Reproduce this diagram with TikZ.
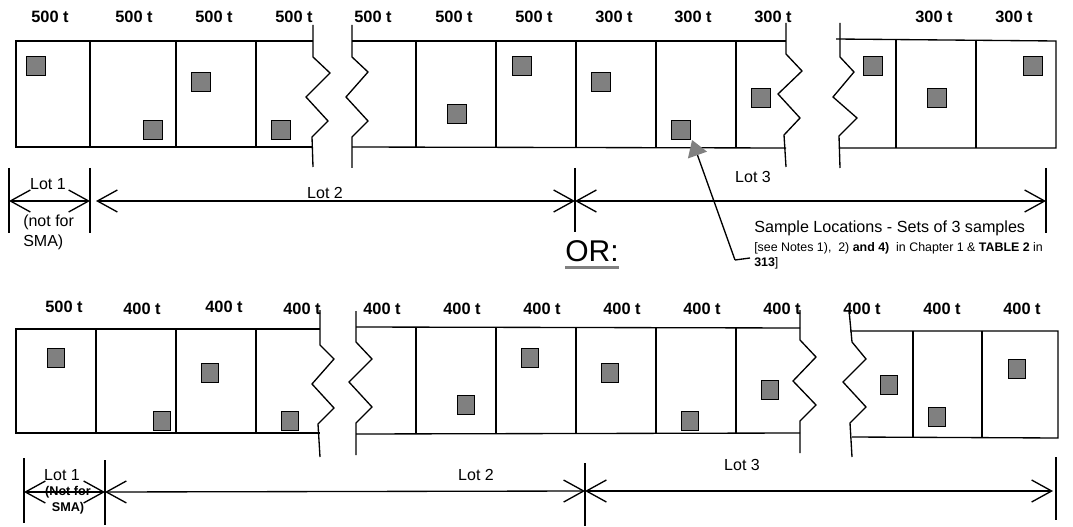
\documentclass[tikz,border=0pt]{standalone}
\usepackage{fontspec}
\setmainfont{Liberation Sans}
\usetikzlibrary{arrows.meta}
\definecolor{sqgray}{RGB}{128,128,128}
\tikzset{
  cell/.style={line width=1pt},
  sq/.style={draw=black,line width=1pt,fill=sqgray,minimum width=14pt,minimum height=14pt,inner sep=0pt},
  sqs/.style={sq,minimum width=12.8pt,minimum height=14pt},
  ton/.style={font=\fontsize{12.3}{13}\selectfont\bfseries,inner sep=0pt},
  lotlbl/.style={font=\fontsize{12}{14}\selectfont,inner sep=0pt},
  lotarrow/.style={line width=1pt,{Straight Barb[length=15pt,width=16.5pt,line width=1pt]}-{Straight Barb[length=15pt,width=16.5pt,line width=1pt]}},
  tick/.style={line width=1pt},
}
\begin{document}
\begin{tikzpicture}[x=0.75pt,y=-0.75pt]
\useasboundingbox (0,0) rectangle (1073,527);
% ================= TOP ROW =================
% segment 1
\draw[cell] (313,41) -- (16,41) -- (16,147) -- (313,147);
\foreach \xx in {90,176,256} \draw[cell] (\xx,41) -- (\xx,147);
\draw[cell] (313,25)--(313,57)--(330,73)--(306,97)--(328,121)--(312,137)--(313,167);
% segment 2
\draw[cell] (352,25)--(352,57)--(368,72)--(346,97)--(368,121)--(352,137)--(352,168);
\draw[cell] (352,41) -- (786,41);
\draw[cell] (352,147) -- (786,148);
\foreach \xx in {416,496,576,656,736} \draw[cell] (\xx,41) -- (\xx,147);
\draw[cell] (786,23)--(786,54)--(802,71)--(778,94)--(800,118)--(784,135)--(786,167);
% segment 3
\draw[cell] (840,23)--(840,57)--(854,72)--(833,97)--(857,118)--(839,136)--(840,168);
\draw[cell] (836,39) -- (1056,41) -- (1056,148) -- (840,148);
\foreach \xx in {896,976} \draw[cell] (\xx,40) -- (\xx,148);
% tonnage labels
\foreach \xx/\tt [count=\i] in {50/500,134/500,214/500,294/500,373/500,454/500,534/500,614/300,693/300,773/300,934/300,1014/300}
  \node[ton] (ta\i) at (\xx,17) {\tt\ t};
% squares
\foreach \xx/\yy [count=\i] in {36/66,153/130,201/82,281/130,457/114,522/66,601/82,681/130,761/98,873/66,937/98,1033/66}
  \node[sq] (sa\i) at (\xx,\yy) {};
% lots top
\coordinate (a1t) at (9,168);   \coordinate (a1b) at (9,233);
\coordinate (a2t) at (90,168);  \coordinate (a2b) at (90,233);
\coordinate (a3t) at (575,168); \coordinate (a3b) at (575,232);
\coordinate (a4t) at (1046,168);\coordinate (a4b) at (1046,233);
\foreach \c in {a1,a2,a3,a4} \draw[tick] (\c t) -- (\c b);
\coordinate (l1a) at (9,201);  \coordinate (l1b) at (90,201);
\coordinate (l2a) at (96,201); \coordinate (l2b) at (575,201);
\coordinate (l3a) at (575,201);\coordinate (l3b) at (1046,201);
\draw[lotarrow] (l1a) -- (l1b);
\draw[lotarrow] (l2a) -- (l2b);
\draw[lotarrow] (l3a) -- (l3b);
\node[lotlbl] (lota1) at (48,184) {Lot 1};
\node[lotlbl,anchor=base west] (lota1n) at (23,227) {(not for};
\node[lotlbl,anchor=base west] (lota1s) at (23,246) {SMA)};
\node[lotlbl] (lota2) at (325,193) {Lot 2};
\node[lotlbl] (lota3) at (753,177) {Lot 3};
% note
\node[font=\fontsize{12.1}{14}\selectfont,inner sep=0pt,anchor=base west] (note1) at (754,233) {Sample Locations - Sets of 3 samples};
\node[font=\fontsize{9.3}{10}\selectfont,inner sep=0pt,anchor=base west] (note2) at (754,251) {[see Notes 1),\ \ 2) \textbf{and 4)}\ \ in Chapter 1 \& \textbf{TABLE 2} in};
\node[font=\fontsize{9.3}{10}\selectfont,inner sep=0pt,anchor=base west] (note3) at (754,267) {\textbf{313}]};
\coordinate (lead1) at (750,258);
\coordinate (lead2) at (735,260);
\draw[line width=1pt] (lead1) -- (lead2);
\draw[line width=1pt,-{Triangle[length=12pt,width=15pt,color=sqgray,fill=sqgray]}] (lead2) -- ([xshift=0.8pt]sa8.south east);
% OR
\node[font=\fontsize{22.5}{26}\selectfont,inner sep=0pt,anchor=base] (or) at (592,262) {OR:};
\draw[sqgray,line width=2pt] ([yshift=-3.9pt]or.base west) -- ([yshift=-3.9pt]or.base east);
% ================= BOTTOM ROW =================
\draw[cell] (320,329) -- (16,329) -- (16,433) -- (320,433);
\foreach \xx in {96,176,256} \draw[cell] (\xx,329) -- (\xx,433);
\draw[cell] (320,310)--(320,345)--(334,359)--(312,384)--(334,408)--(318,424)--(320,457);
\draw[cell] (356,311)--(356,342)--(372,359)--(349,382)--(372,407)--(356,423)--(356,455);
\draw[cell] (356,327) -- (800,328);
\draw[cell] (356,434) -- (800,433);
\foreach \xx in {416,496,576,656,736} \draw[cell] (\xx,328) -- (\xx,433);
\draw[cell] (800,310)--(800,340)--(816,357)--(793,381)--(816,405)--(800,421)--(800,453);
\draw[cell] (849,310)--(852,342)--(866,359)--(843,382)--(866,407)--(850,423)--(852,457);
\draw[cell] (850,331) -- (1058,331) -- (1058,438) -- (852,437);
\foreach \xx in {913,982} \draw[cell] (\xx,331) -- (\xx,437);
\foreach \xx/\yy/\tt [count=\i] in {64/307/500,142/309/400,224/307/400,302/309/400,382/309/400,462/309/400,542/309/400,622/309/400,702/309/400,782/309/400,862/309/400,942/309/400,1022/309/400}
  \node[ton] (tb\i) at (\xx,\yy) {\tt\ t};
\foreach \xx/\yy [count=\i] in {56/358,162/421,210/373,290/421,466/405,530/358,610/373,690/421,770/390,889/385,937/417,1017/369}
  \node[sqs] (sb\i) at (\xx,\yy) {};
% lots bottom
\coordinate (b1t) at (24,458);   \coordinate (b1b) at (24,523);
\coordinate (b2t) at (105,460);  \coordinate (b2b) at (105,525);
\coordinate (b3t) at (585,463);  \coordinate (b3b) at (585,526);
\coordinate (b4t) at (1056,457); \coordinate (b4b) at (1056,520);
\foreach \c in {b1,b2,b3,b4} \draw[tick] (\c t) -- (\c b);
\coordinate (m1a) at (24,492);  \coordinate (m1b) at (105,492);
\coordinate (m2a) at (105,492); \coordinate (m2b) at (585,491);
\coordinate (m3a) at (585,491); \coordinate (m3b) at (1053,491);
\draw[lotarrow] (m1a) -- (m1b);
\draw[lotarrow] (m2a) -- (m2b);
\draw[lotarrow] (m3a) -- (m3b);
\node[lotlbl] (lotb1) at (62,475) {Lot 1};
\node[font=\fontsize{9.5}{11}\selectfont\bfseries,inner sep=0pt] (lotb1n) at (68,492) {(Not for};
\node[font=\fontsize{9.5}{11}\selectfont\bfseries,inner sep=0pt] (lotb1s) at (68,508) {SMA)};
\node[lotlbl] (lotb2) at (476,475) {Lot 2};
\node[lotlbl] (lotb3) at (742,465) {Lot 3};
\end{tikzpicture}
\end{document}
